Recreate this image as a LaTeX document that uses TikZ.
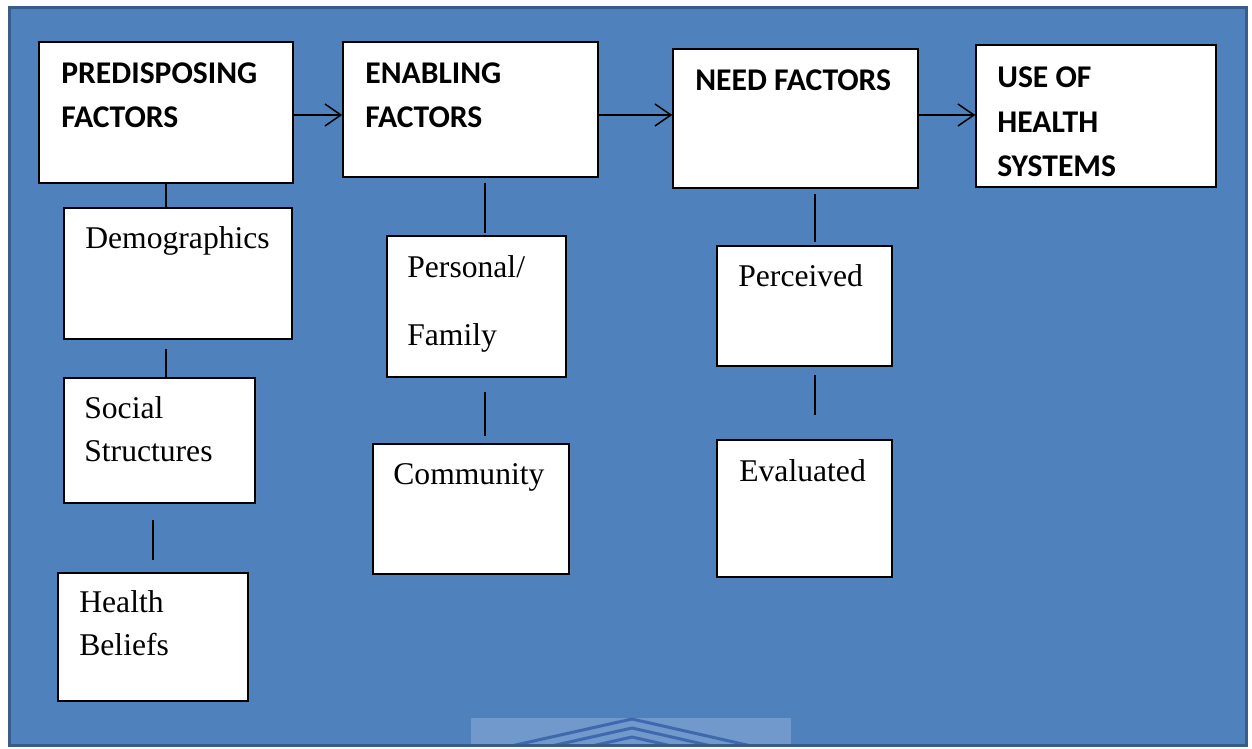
\documentclass[tikz,border=0pt]{standalone}
\usepackage{fontspec}
\setmainfont{Liberation Serif}
\newfontfamily\headfont{Carlito}
\usepackage{xcolor}
\usetikzlibrary{arrows.meta, positioning, shadows, fit}

\definecolor{panelblue}{HTML}{4F81BD}
\definecolor{paneledge}{HTML}{385D8A}
\definecolor{markblue}{HTML}{7299CB}
\definecolor{markline}{HTML}{3F68AE}

\tikzset{
  box/.style={draw=black, line width=0.03cm, fill=white, inner sep=0pt,
    drop shadow={shadow xshift=0.03cm, shadow yshift=-0.03cm, opacity=0.35}},
  head/.style={font=\headfont\bfseries\fontsize{18}{25.6}\selectfont, align=left, inner sep=0pt, anchor=base west},
  item/.style={font=\fontsize{18}{24.5}\selectfont, align=left, inner sep=0pt, anchor=base west},
  link/.style={line width=0.03cm},
  flow/.style={link, -{Straight Barb[length=0.32cm, width=0.44cm]}},
}

\begin{document}
\begin{tikzpicture}[x=0.02cm, y=-0.02cm]
\useasboundingbox (0,0) rectangle (1252,749);

% panel
\fill[panelblue] (8,6) rectangle (1248,747);
\begin{scope}
  \clip (471,718) rectangle (791,747);
  \fill[markblue] (471,718) rectangle (791,747);
  \foreach \d in {0,9,18}
    \draw[markline, line width=0.06cm] (471,{755+\d}) -- (632,{719+\d}) -- (791,{755+\d});
\end{scope}
\draw[paneledge, line width=0.06cm] (9.5,7.5) rectangle (1246.5,745.5);

% main row
\node[box, fit={(39,42) (293,183)}] (pre) {};
\node[box, fit={(343,42) (598,177)}] (enab) {};
\node[box, fit={(673,49) (918,188)}] (need) {};
\node[box, fit={(976,45) (1216,187)}] (use) {};

% text anchored at the baseline of the last line
\node[head] (pre-txt) at (61,128) {PREDISPOSING\\FACTORS};
\node[head] (enab-txt) at (365,128) {ENABLING\\FACTORS};
\node[head] (need-txt) at (695,91) {NEED FACTORS};
\node[head] (use-txt) at (997,177) {USE OF\\HEALTH\\SYSTEMS};

% sub boxes
\node[box, fit={(64,208) (292,339)}] (demo) {};
\node[box, fit={(64,378) (255,503)}] (soc) {};
\node[box, fit={(58,573) (248,701)}] (hb) {};
\node[box, fit={(387,236) (566,377)}] (pers) {};
\node[box, fit={(373,444) (569,574)}] (comm) {};
\node[box, fit={(717,246) (892,366)}] (perc) {};
\node[box, fit={(717,440) (892,577)}] (eval) {};

\node[item] (demo-txt) at (85,249) {Demographics};
\node[item] (soc-txt) at (84,462) {Social\\Structures};
\node[item] (hb-txt) at (79,656) {Health\\Beliefs};
\node[item, font=\fontsize{18}{39}\selectfont] (pers-txt) at (407,346) {Personal/\\Family};
\node[item] (comm-txt) at (393,485) {Community};
\node[item] (perc-txt) at (738,287) {Perceived};
\node[item] (eval-txt) at (739,482) {Evaluated};

% arrows
\coordinate (row) at (0,115);
\draw[flow] (pre.east |- row) -- (enab.west |- row);
\draw[flow] (enab.east |- row) -- (need.west |- row);
\draw[flow] (need.east |- row) -- (use.west |- row);

% vertical links
\coordinate (enab-bus) at (485,0);
\coordinate (need-bus) at (815,0);
\draw[link] (pre.south) -- (pre.south |- demo.north);
\draw[link, shorten <=0.18cm] (pre.south |- demo.south) -- (pre.south |- soc.north);
\draw[link, shorten <=0.32cm, shorten >=0.24cm] (hb.north |- soc.south) -- (hb.north);
\draw[link, shorten <=0.1cm, shorten >=0.04cm] (enab-bus |- enab.south) -- (enab-bus |- pers.north);
\draw[link, shorten <=0.28cm, shorten >=0.14cm] (enab-bus |- pers.south) -- (enab-bus |- comm.north);
\draw[link, shorten <=0.1cm, shorten >=0.06cm] (need-bus |- need.south) -- (need-bus |- perc.north);
\draw[link, shorten <=0.16cm, shorten >=0.48cm] (need-bus |- perc.south) -- (need-bus |- eval.north);
\end{tikzpicture}
\end{document}
